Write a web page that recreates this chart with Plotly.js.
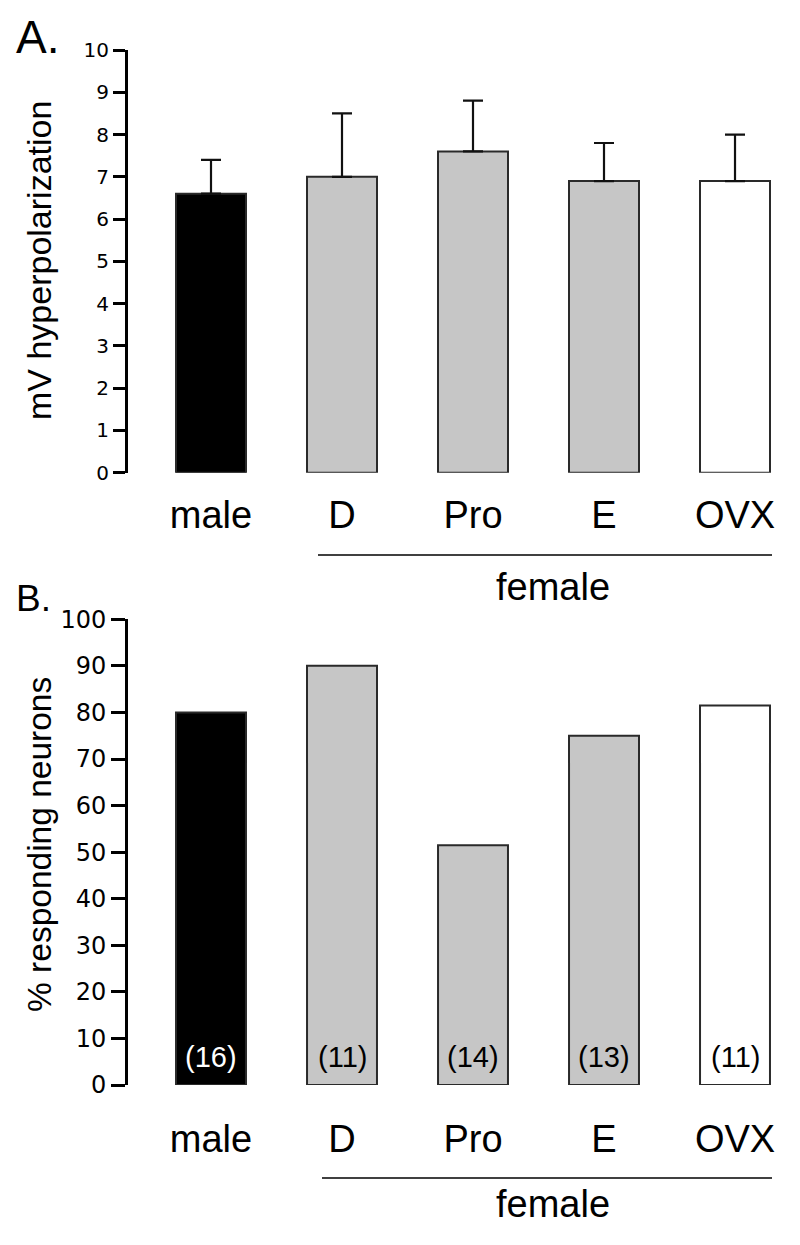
<!DOCTYPE html>
<html>
<head>
<meta charset="utf-8">
<script src="https://cdn.plot.ly/plotly-3.0.1.min.js"></script>
<style>html,body{margin:0;padding:0;background:#fff;}</style>
</head>
<body>
<div id="chart" style="width:800px;height:1245px;"></div>
<script>
// ---- data ----
const categories = ['male', 'D', 'Pro', 'E', 'OVX'];
const hyperpolMean = [6.6, 7.0, 7.6, 6.9, 6.9];
const hyperpolSEM = [0.8, 1.5, 1.2, 0.9, 1.1];
const respondingPct = [80, 90, 51.5, 75, 81.5];
const cellCounts = ['(16)', '(11)', '(14)', '(13)', '(11)'];
const countColors = ['#ffffff', '#000000', '#000000', '#000000', '#000000'];
const barColors = ['#000000', '#c6c6c6', '#c6c6c6', '#c6c6c6', '#ffffff'];
const groupLabel = 'female';
const yTitleA = 'mV hyperpolarization';
const yTitleB = '% responding neurons';

const W = 800, H = 1245;
const px = v => v / W;
const py = v => 1 - v / H;

const barWidth = 0.534;

const traceA = {
  type: 'bar', x: categories, y: hyperpolMean, xaxis: 'x', yaxis: 'y',
  width: barWidth,
  marker: {color: barColors, line: {color: '#2a2a2a', width: 2}},
  error_y: {type: 'data', symmetric: false, array: hyperpolSEM,
            arrayminus: hyperpolSEM.map(() => 0),
            color: '#111', thickness: 2.2, width: 10},
  hoverinfo: 'skip', showlegend: false
};
const traceB = {
  type: 'bar', x: categories, y: respondingPct, xaxis: 'x2', yaxis: 'y2',
  width: barWidth,
  marker: {color: barColors, line: {color: '#2a2a2a', width: 2}},
  hoverinfo: 'skip', showlegend: false
};

const xRange = [-0.6336, 4.4198];
const xDomain = [px(128), px(790)];
const labelFont = {family: 'Liberation Sans, Arial, sans-serif', size: 38, color: '#000'};

function xAxis(anchor, standoff) {
  return {
    anchor: anchor, domain: xDomain, range: xRange, type: 'category',
    showline: false, showgrid: false, zeroline: false,
    ticks: 'outside', ticklen: standoff, tickcolor: 'rgba(0,0,0,0)',
    tickfont: labelFont, fixedrange: true
  };
}
function yAxis(anchor, domain, range, dtick, fsize, tlen) {
  return {
    anchor: anchor, domain: domain, range: range, dtick: dtick, tick0: 0,
    showline: true, linewidth: 3, linecolor: '#000',
    ticks: 'outside', ticklen: tlen, tickwidth: 3, tickcolor: '#000',
    showgrid: false, zeroline: false,
    tickfont: {family: 'DejaVu Sans, Verdana, sans-serif', size: fsize, color: '#000'},
    fixedrange: true
  };
}

const annotations = [
  {text: 'A.', xref: 'paper', yref: 'paper', x: px(14), y: py(37), xanchor: 'left', yanchor: 'middle',
   showarrow: false, font: {family: 'Liberation Sans, Arial', size: 46, color: '#000'}},
  {text: 'B.', xref: 'paper', yref: 'paper', x: px(14), y: py(598.3), xanchor: 'left', yanchor: 'middle',
   showarrow: false, font: {family: 'Liberation Sans, Arial', size: 37, color: '#000'}},
  {text: yTitleA, xref: 'paper', yref: 'paper', x: px(39), y: py(261), xanchor: 'center', yanchor: 'middle',
   textangle: -90, showarrow: false, font: {family: 'Liberation Sans, Arial', size: 34, color: '#000'}},
  {text: yTitleB, xref: 'paper', yref: 'paper', x: px(39), y: py(845), xanchor: 'center', yanchor: 'middle',
   textangle: -90, showarrow: false, font: {family: 'Liberation Sans, Arial', size: 33.5, color: '#000'}},
  {text: groupLabel, xref: 'paper', yref: 'paper', x: px(553), y: py(587), xanchor: 'center', yanchor: 'middle',
   showarrow: false, font: labelFont},
  {text: groupLabel, xref: 'paper', yref: 'paper', x: px(553), y: py(1204), xanchor: 'center', yanchor: 'middle',
   showarrow: false, font: labelFont}
];
categories.forEach((c, i) => {
  annotations.push({
    text: cellCounts[i], xref: 'x2', yref: 'paper', x: c, y: py(1057),
    xanchor: 'center', yanchor: 'middle', showarrow: false,
    font: {family: 'Liberation Sans, Arial', size: 29, color: countColors[i]}
  });
});

const layout = {
  width: W, height: H,
  margin: {l: 0, r: 0, t: 0, b: 0},
  paper_bgcolor: '#fff', plot_bgcolor: 'rgba(0,0,0,0)',
  font: {family: 'Liberation Sans, Arial, sans-serif', color: '#000'},
  showlegend: false,
  xaxis: xAxis('y', 9),
  yaxis: yAxis('x', [py(472.7), py(50)], [0, 10], 1, 20, 12),
  xaxis2: xAxis('y2', 20),
  yaxis2: yAxis('x2', [py(1085), py(619.3)], [0, 100], 10, 24, 14),
  shapes: [
    {type: 'line', xref: 'paper', yref: 'paper', x0: px(318), x1: px(772), y0: py(555), y1: py(555),
     line: {color: '#000', width: 1.5}},
    {type: 'line', xref: 'paper', yref: 'paper', x0: px(322), x1: px(772), y0: py(1178), y1: py(1178),
     line: {color: '#000', width: 1.5}}
  ],
  annotations: annotations
};

Plotly.newPlot('chart', [traceA, traceB], layout, {displayModeBar: false, staticPlot: true});
</script>
</body>
</html>
